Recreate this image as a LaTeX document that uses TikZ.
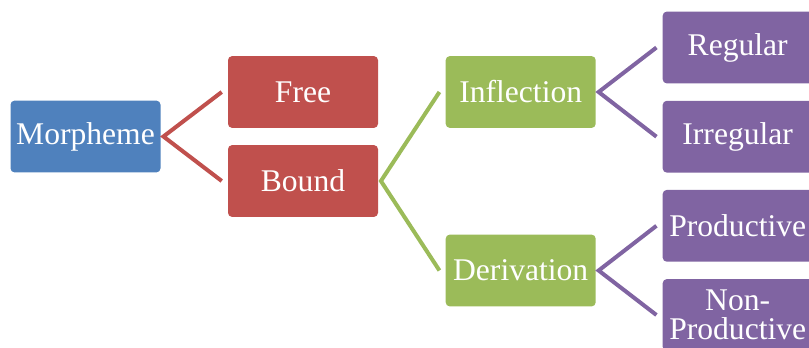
\documentclass[tikz,border=0pt]{standalone}
\usepackage{fontspec}
\setmainfont{Liberation Serif}
\usepackage{tikz}
\definecolor{mblue}{HTML}{4F81BD}
\definecolor{mred}{HTML}{C0504D}
\definecolor{mgreen}{HTML}{9BBB59}
\definecolor{mpurple}{HTML}{8064A2}

\begin{document}
\begin{tikzpicture}[x=0.75pt, y=-0.75pt,
        box/.style={rectangle, rounded corners=3pt, text=white, align=center,
            minimum width=112.5pt, minimum height=53.8pt, inner sep=0pt,
            font=\fontsize{23.7}{22}\selectfont},
        branch/.style={line width=3pt}]
        \useasboundingbox (0,0) rectangle (809,347);

        \node[box, fill=mblue] (morph) at (85.5,136.5) {Morpheme};
        \node[box, fill=mred] (free) at (303,92) {Free};
        \node[box, fill=mred] (bound) at (303,181) {Bound};
        \node[box, fill=mgreen] (infl) at (520.7,92) {Inflection};
        \node[box, fill=mgreen] (deriv) at (520.7,270.5) {Derivation};
        \node[box, fill=mpurple] (reg) at (737.7,47.5) {Regular};
        \node[box, fill=mpurple] (irreg) at (737.7,136.7) {Irregular};
        \node[box, fill=mpurple] (prod) at (737.7,225.8) {Productive};
        \node[box, fill=mpurple] (nonprod) at (737.7,315) {Non-\\Productive};

        \draw[branch, mred] ([xshift=-4.5pt]free.west) -- ([xshift=2pt]morph.east) -- ([xshift=-4.5pt]bound.west);
        \draw[branch, mgreen] ([xshift=-4.5pt]infl.west) -- ([xshift=2pt]bound.east) -- ([xshift=-4.5pt]deriv.west);
        \draw[branch, mpurple] ([xshift=-4.5pt]reg.west) -- ([xshift=2pt]infl.east) -- ([xshift=-4.5pt]irreg.west);
        \draw[branch, mpurple] ([xshift=-4.5pt]prod.west) -- ([xshift=2pt]deriv.east) -- ([xshift=-4.5pt]nonprod.west);
\end{tikzpicture}
\end{document}
